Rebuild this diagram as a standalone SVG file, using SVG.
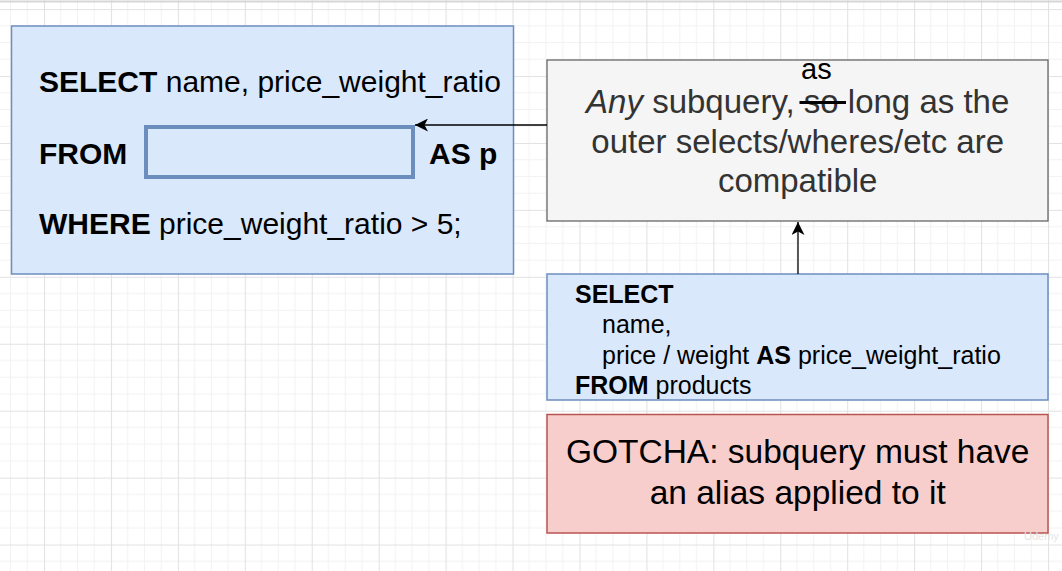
<svg xmlns="http://www.w3.org/2000/svg" width="1062" height="571" viewBox="0 0 1062 571">
  <defs>
    <pattern id="grid" x="44" y="9.1" width="66.93" height="66.93" patternUnits="userSpaceOnUse">
      <path d="M16.73,0 V66.93 M33.47,0 V66.93 M50.2,0 V66.93 M0,16.73 H66.93 M0,33.47 H66.93 M0,50.2 H66.93" stroke="#f2f2f2" stroke-width="1" fill="none"/>
      <path d="M0.5,0 V66.93 M0,0.5 H66.93" stroke="#e2e2e2" stroke-width="1.2" fill="none"/>
    </pattern>
    <marker id="arrow" viewBox="0 0 13 13" refX="13" refY="6.5" markerWidth="13" markerHeight="13" markerUnits="userSpaceOnUse" orient="auto">
      <path d="M13,6.5 L0,0 L3.5,6.5 L0,13 Z" fill="#000"/>
    </marker>
  </defs>
  <style>
    .t { font-family: "Liberation Sans", Arial, sans-serif; }
    .b { font-weight: bold; }
    .blue { fill: #dae8fc; stroke: #6c8ebf; stroke-width: 1.5; }
    .gray { fill: #f5f5f5; stroke: #666666; stroke-width: 1.3; }
    .red { fill: #f8cecc; stroke: #b85450; stroke-width: 1.5; }
    .edge { stroke: #000; stroke-width: 1.3; fill: none; }
  </style>

  <rect x="0" y="0" width="1062" height="571" fill="#ffffff"/>
  <rect x="0" y="0" width="1062" height="571" fill="url(#grid)"/>
  <line x1="0" y1="1.5" x2="1062" y2="1.5" stroke="#d6d6d6" stroke-width="2"/>

  <g id="outer-query">
    <rect class="blue" x="11.5" y="26" width="502" height="248"/>
    <rect x="146" y="127" width="267" height="50" fill="#dae8fc" stroke="#6c8ebf" stroke-width="4"/>
    <text class="t" font-size="30" fill="#000" x="39" y="92"><tspan class="b">SELECT</tspan> name, price_weight_ratio</text>
    <text class="t b" font-size="30" fill="#000" x="39" y="164">FROM</text>
    <text class="t b" font-size="30" fill="#000" x="429" y="164">AS p</text>
    <text class="t" font-size="30" fill="#000" x="39" y="234"><tspan class="b">WHERE</tspan> price_weight_ratio &gt; 5;</text>
  </g>

  <g id="note">
    <rect class="gray" x="547" y="60" width="501" height="161"/>
    <text class="t" font-size="33" fill="#333333" text-anchor="middle" x="797.7" y="113"><tspan font-style="italic">Any</tspan> subquery, so long as the</text>
    <text class="t" font-size="33" fill="#333333" text-anchor="middle" x="797.7" y="152.6">outer selects/wheres/etc are</text>
    <text class="t" font-size="33" fill="#333333" text-anchor="middle" x="797.7" y="192.2">compatible</text>
    <line x1="799.5" y1="102.5" x2="846" y2="102.5" stroke="#000" stroke-width="3"/>
    <text class="t" font-size="29" fill="#000" x="801" y="78.5">as</text>
  </g>

  <g id="subquery">
    <rect class="blue" x="547" y="274" width="501" height="126"/>
    <text class="t b" font-size="25" fill="#000" x="575" y="302.5">SELECT</text>
    <text class="t" font-size="25" fill="#000" x="602" y="333">name,</text>
    <text class="t" font-size="25" fill="#000" x="602" y="363.5">price / weight <tspan class="b">AS</tspan> price_weight_ratio</text>
    <text class="t" font-size="25" fill="#000" x="575" y="394"><tspan class="b">FROM</tspan> products</text>
  </g>

  <g id="gotcha">
    <rect class="red" x="547" y="414.5" width="501" height="118.5"/>
    <text class="t" font-size="33.5" fill="#000" text-anchor="middle" x="797.7" y="463">GOTCHA: subquery must have</text>
    <text class="t" font-size="33.5" fill="#000" text-anchor="middle" x="797.7" y="503.8">an alias applied to it</text>
  </g>

  <g id="connectors">
    <line class="edge" x1="547" y1="125" x2="415" y2="125" marker-end="url(#arrow)"/>
    <line class="edge" x1="798" y1="274" x2="798" y2="222" marker-end="url(#arrow)"/>
  </g>

  <text class="t" font-size="11" fill="#e4e4e4" x="1024" y="540">Udemy</text>
</svg>
